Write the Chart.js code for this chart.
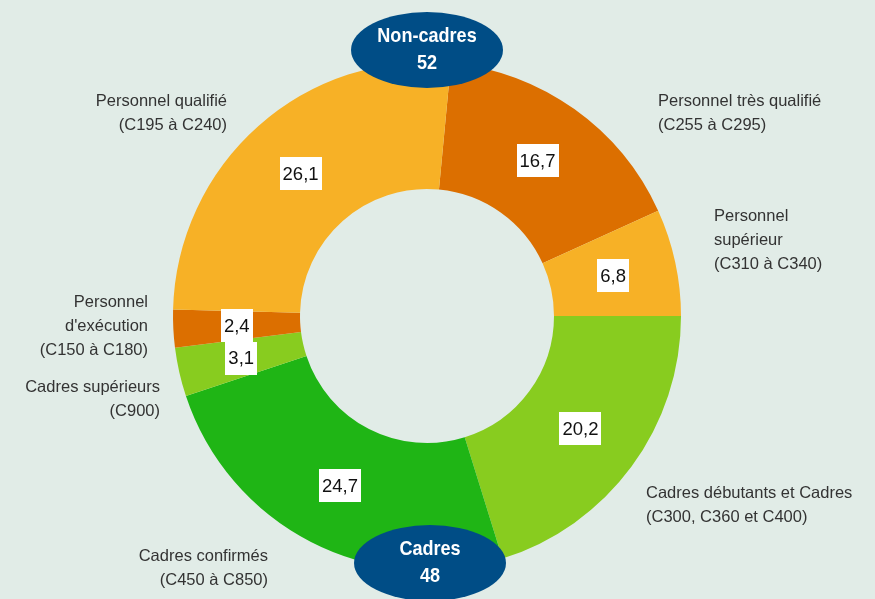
<!DOCTYPE html>
<html>
<head>
<meta charset="utf-8">
<script src="https://cdn.jsdelivr.net/npm/chart.js@4"></script>
<style>
  html, body { margin: 0; padding: 0; background: #e1ece7; }
  #wrap { width: 875px; height: 599px; position: relative; }
</style>
</head>
<body>
<div id="wrap"><canvas id="c" width="875" height="599"></canvas></div>
<script>
// ---- data ----
const categories = [
  "Personnel très qualifié",
  "Personnel supérieur",
  "Cadres débutants et Cadres",
  "Cadres confirmés",
  "Cadres supérieurs",
  "Personnel d'exécution",
  "Personnel qualifié"
];
const values = [16.7, 6.8, 20.2, 24.7, 3.1, 2.4, 26.1];
const valueLabels = ["16,7", "6,8", "20,2", "24,7", "3,1", "2,4", "26,1"];
const groupNames = ["Non-cadres", "Cadres"];
const groupTotals = [52, 48];

// ---- outside label text lines (one entry per category) ----
const labelLines = [
  ["Personnel très qualifié", "(C255 à C295)"],
  ["Personnel", "supérieur", "(C310 à C340)"],
  ["Cadres débutants et Cadres", "(C300, C360 et C400)"],
  ["Cadres confirmés", "(C450 à C850)"],
  ["Cadres supérieurs", "(C900)"],
  ["Personnel", "d'exécution", "(C150 à C180)"],
  ["Personnel qualifié", "(C195 à C240)"]
];

// ---- styles / layout ----
const colors = ["#dc6f00", "#f7b126", "#88cc1f", "#1fb515", "#88cc1f", "#dc6f00", "#f7b126"];
const labelAnchors = [
  {x: 658, y: 101, align: "left"},
  {x: 714, y: 216, align: "left"},
  {x: 646, y: 493, align: "left"},
  {x: 268, y: 556, align: "right"},
  {x: 160, y: 387, align: "right"},
  {x: 148, y: 302, align: "right"},
  {x: 227, y: 101, align: "right"}
];
const lineH = 24;

const labelPlugin = {
  id: "labels",
  afterDatasetsDraw(chart) {
    const ctx = chart.ctx;
    const meta = chart.getDatasetMeta(0);
    ctx.save();
    // value boxes
    ctx.font = "18.5px 'Liberation Sans', Arial, sans-serif";
    ctx.textAlign = "center";
    ctx.textBaseline = "middle";
    meta.data.forEach((arc, i) => {
      const p = arc.getCenterPoint();
      const t = valueLabels[i];
      const w = ctx.measureText(t).width + 6;
      const h = 33;
      ctx.fillStyle = "#ffffff";
      ctx.fillRect(Math.round(p.x - w / 2), Math.round(p.y - h / 2), Math.round(w), h);
      ctx.fillStyle = "#111111";
      ctx.fillText(t, p.x, p.y + 1);
    });
    // outside labels
    ctx.font = "16.5px 'Liberation Sans', Arial, sans-serif";
    ctx.fillStyle = "#333333";
    labelLines.forEach((lines, i) => {
      const a = labelAnchors[i];
      ctx.textAlign = a.align;
      lines.forEach((ln, j) => ctx.fillText(ln, a.x, a.y + j * lineH));
    });
    // group badges
    const arc0 = meta.data[0];
    const cx = arc0.x, cy = arc0.y, R = arc0.outerRadius;
    const badges = [
      {x: cx, y: cy - R - 12},
      {x: cx + 3, y: cy + R - 7}
    ];
    badges.forEach((b, i) => {
      ctx.beginPath();
      ctx.ellipse(b.x, b.y, 76, 38, 0, 0, Math.PI * 2);
      ctx.fillStyle = "#004d86";
      ctx.fill();
      ctx.save();
      ctx.translate(b.x, b.y);
      ctx.scale(0.86, 1);
      ctx.fillStyle = "#ffffff";
      ctx.font = "bold 21px 'Liberation Sans', Arial, sans-serif";
      ctx.textAlign = "center";
      ctx.fillText(groupNames[i], 0, -14);
      ctx.fillText(String(groupTotals[i]), 0, 13);
      ctx.restore();
    });
    ctx.restore();
  }
};

new Chart(document.getElementById("c"), {
  type: "doughnut",
  data: {
    labels: categories,
    datasets: [{
      data: values,
      backgroundColor: colors,
      borderWidth: 0
    }]
  },
  options: {
    responsive: false,
    animation: false,
    rotation: 5.4,
    cutout: "50%",
    layout: { padding: { left: 173, right: 194, top: 62, bottom: 29 } },
    plugins: {
      legend: { display: false },
      tooltip: { enabled: false }
    }
  },
  plugins: [labelPlugin]
});
</script>
</body>
</html>
